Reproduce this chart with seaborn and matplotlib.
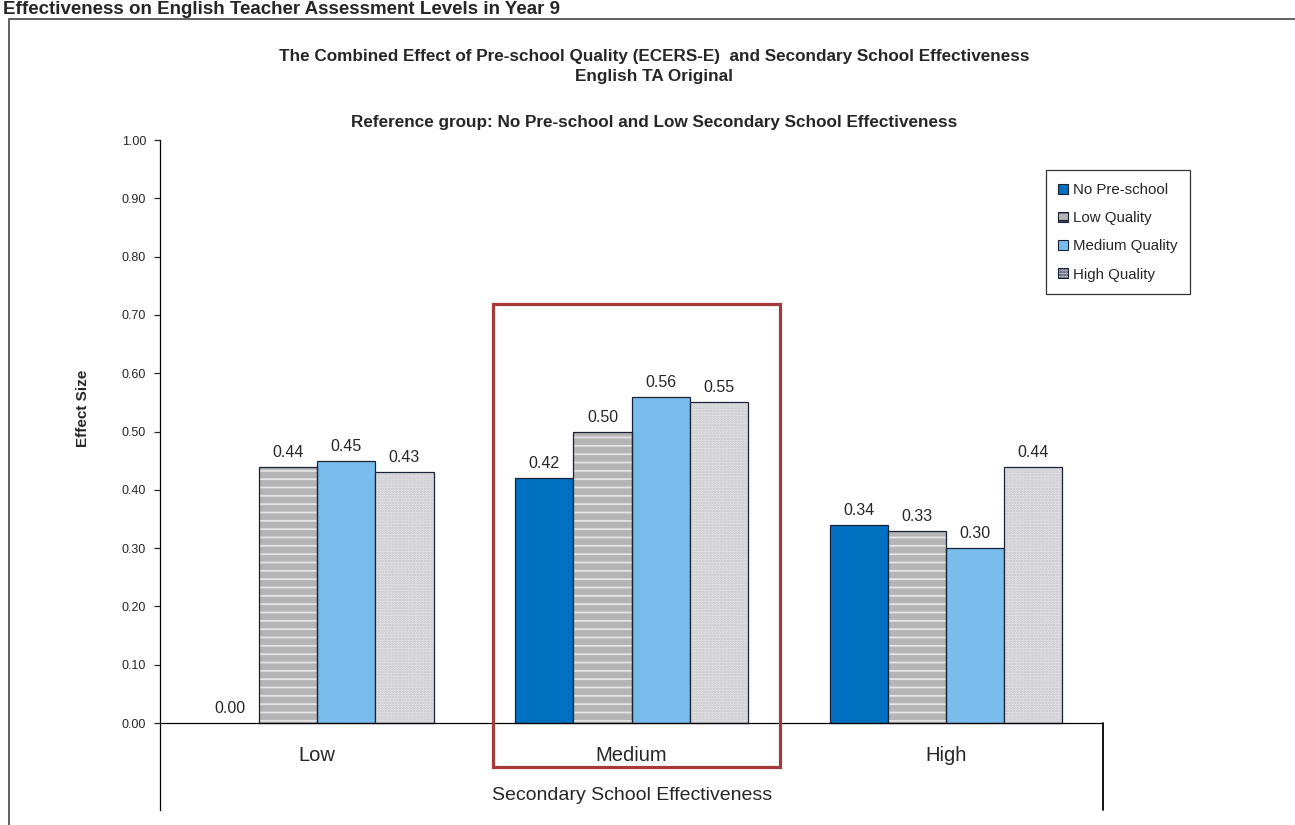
import numpy as np
import pandas as pd
import matplotlib
matplotlib.use("Agg")
import matplotlib.pyplot as plt
from matplotlib.patches import Rectangle, Patch
import seaborn as sns

# data
categories = ["Low", "Medium", "High"]
series = ["No Pre-school", "Low Quality", "Medium Quality", "High Quality"]
no_preschool = [0.00, 0.42, 0.34]
low_quality = [0.44, 0.50, 0.33]
medium_quality = [0.45, 0.56, 0.30]
high_quality = [0.43, 0.55, 0.44]

values = [no_preschool, low_quality, medium_quality, high_quality]
df = pd.DataFrame({
    "effectiveness": categories * len(series),
    "quality": np.repeat(series, len(categories)),
    "effect": np.concatenate(values),
})

face_colors = ["#0070C0", "#B4B4B4", "#78BDEB", "#E6E6EA"]
hatches = [None, "--", None, "......"]
hatch_colors = [None, "#E4E4E4", None, "#C4C4C8"]
edge = "#1A2238"

sns.set_style("white")
plt.rcParams["font.family"] = ["Liberation Sans", "DejaVu Sans"]
plt.rcParams["hatch.linewidth"] = 1.3

fig = plt.figure(figsize=(12.95, 8.25), dpi=100)
ax = fig.add_axes([0.1236, 0.0182, 0.7282, 0.8121])

sns.barplot(data=df, x="effectiveness", y="effect", hue="quality",
            order=categories, hue_order=series, palette=face_colors,
            width=0.74, edgecolor=edge, linewidth=0.9, saturation=1,
            errorbar=None, legend=False, ax=ax)

ymin = -0.149
ax.set_xlim(-0.5, 2.5)
ax.set_ylim(ymin, 1.0)

# hatches drawn in their own colour, outline redrawn on top
for cont, h, hc in zip(ax.containers, hatches, hatch_colors):
    for bar in cont:
        if bar.get_height() == 0:
            bar.set_linewidth(0)
            continue
        if h is not None:
            bar.set_hatch(h)
            bar.set_edgecolor(hc)
            bar.set_linewidth(0)
            ax.add_patch(Rectangle(bar.get_xy(), bar.get_width(), bar.get_height(),
                                   fill=False, edgecolor=edge, linewidth=0.9, zorder=3))
    ax.bar_label(cont, labels=[f"{b.get_height():.2f}" for b in cont],
                 padding=5, fontsize=11.5)

ax.set_yticks(np.arange(0, 1.01, 0.1))
ax.set_yticklabels([f"{t:.2f}" for t in np.arange(0, 1.01, 0.1)], fontsize=9)
ax.tick_params(axis="y", length=4, width=0.9, left=True, direction="out", pad=6)
ax.set_xticks([])
ax.set_xlabel("")
ax.set_ylabel("Effect Size", fontsize=11, fontweight="bold")
ax.yaxis.set_label_coords(-0.074, 0.6)

for s in ["top", "right", "bottom"]:
    ax.spines[s].set_visible(False)
ax.spines["left"].set_color("black")
ax.spines["left"].set_linewidth(0.9)

ax.axhline(0, color="black", lw=0.9, zorder=4)
ax.plot([2.5, 2.5], [ymin, 0], color="black", lw=1.3, clip_on=False)

for i, c in enumerate(categories):
    ax.text(i, -0.055, c, ha="center", va="center", fontsize=14.5)
ax.text(1, -0.125, "Secondary School Effectiveness", ha="center", va="center", fontsize=14)

# highlight box around the Medium group
mid = categories.index("Medium")
ax.add_patch(Rectangle((mid - 0.441, -0.0755), 0.913, 0.795, fill=False,
                       edgecolor="#A23A3A", linewidth=2.3, clip_on=False, zorder=5))

handles = [Patch(facecolor=fc, edgecolor=edge, hatch=h, linewidth=0.8)
           for fc, h in zip(face_colors, hatches)]
leg = ax.legend(handles, series, loc="upper left", bbox_to_anchor=(0.939, 0.955),
                borderaxespad=0, fontsize=10.8, frameon=True, fancybox=False,
                edgecolor="black", handlelength=0.65, handleheight=0.65,
                handletextpad=0.3, labelspacing=0.95, borderpad=0.85)
leg.get_frame().set_linewidth(0.9)

fig.text(0.505, 1 - 56 / 825, "The Combined Effect of Pre-school Quality (ECERS-E)  and Secondary School Effectiveness",
         ha="center", va="center", fontsize=12.3, fontweight="bold")
fig.text(0.505, 1 - 76 / 825, "English TA Original", ha="center", va="center", fontsize=12.3, fontweight="bold")
fig.text(0.505, 1 - 122 / 825, "Reference group: No Pre-school and Low Secondary School Effectiveness",
         ha="center", va="center", fontsize=12.3, fontweight="bold")
fig.text(0.002, 1 - 1 / 825, "Effectiveness on English Teacher Assessment Levels in Year 9",
         ha="left", va="top", fontsize=13.5, fontweight="bold")

fig.patches.append(Rectangle((9 / 1295, -0.1), 1.0, 1.1 - 19 / 825, transform=fig.transFigure,
                             fill=False, edgecolor="#555555", linewidth=1.3))

fig.savefig("out.png", dpi=100)
